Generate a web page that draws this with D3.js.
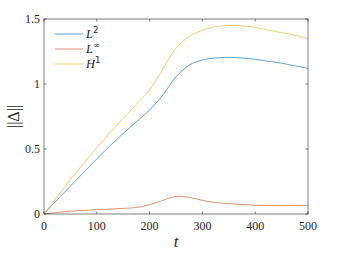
<!DOCTYPE html>
<html>
<head>
<meta charset="utf-8">
<script src="https://cdn.jsdelivr.net/npm/d3@7"></script>
<style>
  body { margin: 0; background: #fff; }
  text { font-family: "Liberation Serif", "DejaVu Serif", serif; fill: #262626; }
</style>
</head>
<body>
<script>
// data
var tVals = [0, 25, 50, 75, 100, 125, 150, 175, 200, 225, 250, 275, 300, 325, 350, 375, 400, 425, 450, 475, 500];
var l2Vals = [0, 0.11, 0.215, 0.32, 0.425, 0.525, 0.62, 0.71, 0.80, 0.915, 1.055, 1.145, 1.185, 1.2, 1.205, 1.2, 1.19, 1.175, 1.16, 1.14, 1.12];
var linfVals = [0, 0.012, 0.022, 0.028, 0.033, 0.038, 0.043, 0.05, 0.072, 0.105, 0.135, 0.128, 0.105, 0.088, 0.08, 0.073, 0.067, 0.065, 0.065, 0.065, 0.065];
var h1Vals = [0, 0.135, 0.265, 0.39, 0.51, 0.625, 0.735, 0.845, 0.955, 1.115, 1.275, 1.365, 1.413, 1.44, 1.45, 1.447, 1.435, 1.415, 1.395, 1.375, 1.35];
var xTicks = [0, 100, 200, 300, 400, 500];
var yTicks = [0, 0.5, 1, 1.5];

var series = [
  {name: "L", sup: "2", values: l2Vals, color: "#0072BD"},
  {name: "L", sup: "\u221E", values: linfVals, color: "#D95319"},
  {name: "H", sup: "1", values: h1Vals, color: "#EDB120"}
];

drawChart();

function drawChart(){
  var width = 341, height = 256;
  var mLeft = 44, mRight = 308, mTop = 19, mBottom = 214;

  var svg = d3.select("body").append("svg")
    .attr("width", width)
    .attr("height", height);

  var x = d3.scaleLinear().domain([0, 500]).range([mLeft, mRight]);
  var y = d3.scaleLinear().domain([0, 1.5]).range([mBottom, mTop]);

  var line = d3.line()
    .x(function(d, i) { return x(tVals[i]); })
    .y(function(d) { return y(d); })
    .curve(d3.curveCatmullRom.alpha(0.5));

  //lines
  series.forEach(function(s) {
    svg.append("path")
      .datum(s.values)
      .attr("fill", "none")
      .attr("stroke", s.color)
      .attr("stroke-opacity", 0.8)
      .attr("stroke-width", 0.8)
      .attr("d", line);
  });

  //box
  svg.append("rect")
    .attr("x", mLeft).attr("y", mTop)
    .attr("width", mRight - mLeft).attr("height", mBottom - mTop)
    .attr("fill", "none")
    .attr("stroke", "#262626")
    .attr("stroke-width", 0.6);

  var tl = 2.6;
  //x ticks bottom and top, inward
  xTicks.forEach(function(t) {
    svg.append("line").attr("x1", x(t)).attr("x2", x(t)).attr("y1", mBottom).attr("y2", mBottom - tl)
      .attr("stroke", "#262626").attr("stroke-width", 0.6);
    svg.append("line").attr("x1", x(t)).attr("x2", x(t)).attr("y1", mTop).attr("y2", mTop + tl)
      .attr("stroke", "#262626").attr("stroke-width", 0.6);
    svg.append("text").attr("x", x(t)).attr("y", mBottom + 16)
      .attr("text-anchor", "middle").attr("font-size", 12).text(t);
  });
  yTicks.forEach(function(v) {
    svg.append("line").attr("x1", mLeft).attr("x2", mLeft + tl).attr("y1", y(v)).attr("y2", y(v))
      .attr("stroke", "#262626").attr("stroke-width", 0.6);
    svg.append("line").attr("x1", mRight).attr("x2", mRight - tl).attr("y1", y(v)).attr("y2", y(v))
      .attr("stroke", "#262626").attr("stroke-width", 0.6);
    svg.append("text").attr("x", mLeft - 4).attr("y", y(v) + 4)
      .attr("text-anchor", "end").attr("font-size", 12).text(v);
  });

  //axis labels
  svg.append("text").attr("x", x(250)).attr("y", 247)
    .attr("text-anchor", "middle").attr("font-size", 17).attr("font-style", "italic").text("t");
  svg.append("text")
    .attr("transform", "translate(19," + y(0.75) + ") rotate(-90)")
    .attr("text-anchor", "middle").attr("font-size", 16).text("||\u0394||");

  //legend
  series.forEach(function(s, i) {
    var ly = 34 + i * 15;
    svg.append("line").attr("x1", 55).attr("x2", 83).attr("y1", ly).attr("y2", ly)
      .attr("stroke", s.color).attr("stroke-opacity", 0.8).attr("stroke-width", 0.8);
    var txt = svg.append("text").attr("x", 86).attr("y", ly + 4).attr("font-size", 12.5);
    txt.append("tspan").attr("font-style", "italic").text(s.name);
    txt.append("tspan").attr("dy", -5).attr("font-size", 8.5)
      .style("font-family", "'DejaVu Sans', sans-serif").text(s.sup);
  });
}
</script>
</body>
</html>
